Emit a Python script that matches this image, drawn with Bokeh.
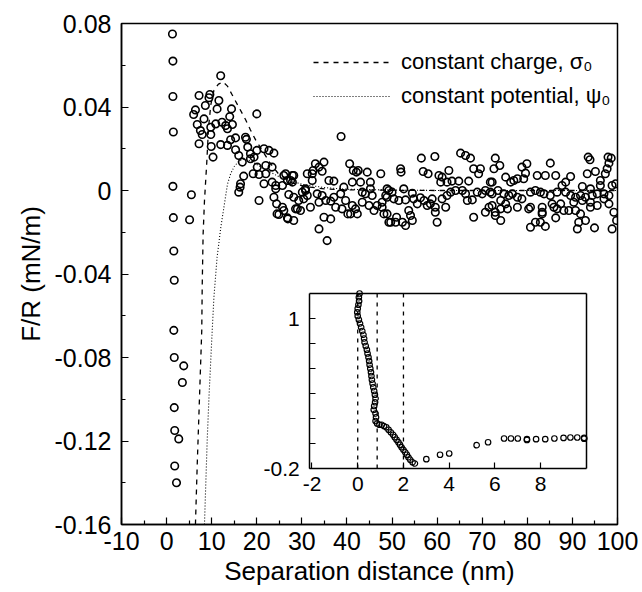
from bokeh.plotting import figure
from bokeh.models import Range1d, LinearAxis, FixedTicker, Legend, LegendItem
from bokeh.embed import file_html
from bokeh.resources import INLINE

FONT = "Liberation Sans"

# ---------------- main panel data (separation nm, F/R mN/m) ----------------
contact_sep = [1.3, 1.4, 1.4, 1.5, 1.4, 1.5, 1.6, 1.7, 1.6, 1.7, 3.8, 3.5, 1.7, 1.8, 2.7, 1.8, 2.2, 5.5, 5.1]
contact_force = [0.075, 0.062, 0.045, 0.028, 0.002, -0.013, -0.029, -0.043, -0.067, -0.080, -0.084, -0.092,
                 -0.104, -0.115, -0.119, -0.132, -0.140, -0.002, -0.014]

near_sep = [12.0, 7.2, 9.4, 9.6, 8.6, 11.6, 11.2, 6.4, 6.0, 14.4, 14.0, 20.0, 8.3, 6.8, 9.8, 10.9, 12.3, 13.1,
            14.6, 13.5, 7.5, 7.9, 9.8, 7.2, 9.9, 12.0, 13.5, 10.3, 14.2, 15.3, 17.5, 17.7, 15.3, 16.0, 16.8,
            18.0, 18.6, 18.6, 20.0, 21.6, 22.7, 23.8, 19.4, 20.1, 22.0, 23.4, 19.2, 20.5, 22.0, 17.1, 16.4,
            16.0, 16.3, 20.5, 21.6, 23.4, 24.2, 24.4, 24.5, 23.8, 26.9, 28.2, 26.4, 27.5, 28.2, 29.0, 29.3,
            30.1, 30.8, 31.2, 32.3, 33.0, 33.8, 32.3, 31.9, 33.8, 33.8]
near_force = [0.055, 0.0455, 0.0444, 0.046, 0.0407, 0.0431, 0.0391, 0.0386, 0.0364, 0.0391, 0.0354, 0.0367,
              0.0343, 0.0316, 0.0303, 0.0319, 0.0327, 0.0311, 0.0316, 0.0296, 0.0287, 0.0268, 0.0268, 0.0224,
              0.0211, 0.0220, 0.0216, 0.0160, 0.0243, 0.0252, 0.0255, 0.0245, 0.0195, 0.0168, 0.0136, 0.0208,
              0.0176, 0.0152, 0.0192, 0.0200, 0.0192, 0.0179, 0.0160, 0.0112, 0.0120, 0.0112, 0.0080, 0.0077,
              0.0080, 0.0069, 0.0032, -0.0008, 0.0016, -0.0048, 0.0032, 0.0040, 0.0024, -0.0064, -0.0112,
              -0.0032, -0.0136, -0.0144, 0.0080, 0.0048, 0.0072, -0.0088, -0.0048, -0.0008, 0.0008, 0.0080,
              0.0080, 0.0128, 0.0112, 0.0048, -0.0080, -0.0056, -0.0184]

mid_sep = [38.7, 26.0, 26.8, 27.9, 27.9, 24.2, 25.7, 25.7, 24.9, 26.8, 26.0, 27.1, 28.2, 28.6, 29.7, 30.4,
           31.2, 30.8, 32.5, 34.5, 34.9, 33.4, 34.5, 34.9, 36.4, 35.6, 36.0, 37.1, 35.3, 36.4, 37.5, 37.1,
           38.6, 39.3, 39.7, 38.9, 40.2, 40.6, 41.2, 42.1, 43.0, 43.4, 44.5, 45.2, 45.2, 41.2, 41.9, 42.3,
           40.8, 44.1, 45.6, 43.4, 44.9, 47.5, 46.0, 46.7, 47.8, 48.9, 48.6, 48.9, 49.3, 41.4, 42.5]
mid_force = [0.0259, 0.0072, 0.0048, 0.0072, 0.0040, 0.0008, 0.0024, -0.0080, -0.0115, -0.0131, -0.0096,
             -0.0019, -0.0032, -0.0088, -0.0096, -0.0040, -0.0024, 0.0000, 0.0096, 0.0092, 0.0136, -0.0016,
             -0.0024, -0.0128, -0.0136, -0.0240, 0.0048, 0.0045, -0.0048, -0.0051, -0.0080, -0.0032, -0.0016,
             0.0016, -0.0048, -0.0088, -0.0112, 0.0128, 0.0040, 0.0088, 0.0040, -0.0008, 0.0088, 0.0040,
             0.0008, -0.0072, -0.0088, -0.0112, -0.0112, -0.0016, -0.0024, -0.0056, -0.0072, 0.0080, -0.0096,
             -0.0072, -0.0080, 0.0008, -0.0024, -0.0112, -0.0152, 0.0096, 0.0096]

far1_sep = [51.9, 52.0, 56.5, 59.5, 56.9, 58.0, 65.2, 66.3, 67.4, 68.1, 69.6, 69.2, 62.6, 60.4, 61.1, 60.8,
            62.2, 63.3, 64.8, 67.0, 71.8, 49.3, 50.0, 48.9, 50.4, 47.8, 52.6, 53.0, 51.5, 54.5, 54.8, 55.6,
            56.3, 57.1, 57.8, 58.9, 58.5, 59.6, 61.1, 62.2, 63.0, 64.1, 65.6, 66.3, 66.7, 67.8, 68.9, 70.0,
            70.7, 71.8, 48.2, 49.7, 50.8, 51.0, 52.3, 53.0, 54.1, 54.5, 53.7, 59.6, 61.9, 60.0, 68.1, 70.7,
            71.5, 72.9]
far1_force = [0.0104, 0.0088, 0.0155, 0.0163, 0.0091, 0.0080, 0.0179, 0.0168, 0.0155, 0.0104, 0.0104, 0.0080,
              0.0096, 0.0072, 0.0064, 0.0040, 0.0040, 0.0045, 0.0045, 0.0045, 0.0040, 0.0000, -0.0008, -0.0032,
              -0.0040, -0.0056, 0.0008, -0.0045, -0.0048, -0.0013, -0.0040, -0.0064, -0.0035, -0.0048, -0.0072,
              -0.0040, -0.0064, -0.0080, -0.0040, -0.0024, -0.0008, 0.0000, 0.0000, -0.0016, -0.0048, -0.0045,
              -0.0008, -0.0016, 0.0000, -0.0008, -0.0112, -0.0152, -0.0152, -0.0128, -0.0152, -0.0168, -0.0120,
              -0.0144, -0.0096, -0.0104, -0.0080, -0.0152, -0.0128, -0.0104, -0.0080, -0.0104]

far2_sep = [72.9, 72.6, 73.9, 72.2, 73.5, 72.2, 75.2, 76.3, 77.0, 77.8, 79.2, 78.8, 79.9, 79.6, 82.2, 84.0,
            85.1, 86.3, 89.6, 87.7, 88.5, 93.9, 93.3, 95.1, 92.2, 94.0, 96.2, 96.2, 97.3, 97.7, 98.1, 98.6,
            98.8, 99.6, 74.8, 75.9, 76.7, 77.8, 78.8, 80.7, 81.8, 82.9, 83.7, 85.1, 86.6, 88.5, 89.6, 90.7,
            91.8, 92.9, 94.4, 95.5, 97.0, 98.1, 72.2, 74.1, 75.2, 74.1, 75.6, 77.8, 80.3, 80.7, 83.3, 83.3,
            85.9, 85.5, 86.6, 87.4, 88.1, 89.2, 90.7, 90.3, 92.2, 94.0, 94.0, 95.5, 97.0, 98.1, 72.9, 74.1,
            83.3, 86.3, 91.8, 99.2, 99.8, 80.7, 81.8, 82.9, 84.0, 91.4, 92.9, 91.1, 94.9, 98.8, 93.5, 97.9]
far2_force = [0.0155, 0.0104, 0.0120, 0.0040, 0.0000, -0.0016, 0.0064, 0.0040, 0.0048, 0.0056, 0.0056, 0.0112,
              0.0128, 0.0083, 0.0072, 0.0072, 0.0131, 0.0072, 0.0067, 0.0024, 0.0040, 0.0147, 0.0080, 0.0091,
              0.0019, 0.0008, 0.0048, 0.0024, 0.0080, 0.0104, 0.0131, 0.0155, 0.0024, 0.0032, -0.0016, -0.0024,
              -0.0016, -0.0032, -0.0040, -0.0008, 0.0000, -0.0008, -0.0016, -0.0024, -0.0008, -0.0008, -0.0024,
              -0.0032, -0.0024, -0.0032, -0.0024, -0.0016, -0.0016, -0.0024, -0.0072, -0.0048, -0.0064, -0.0088,
              -0.0088, -0.0080, -0.0088, -0.0080, -0.0080, -0.0104, -0.0080, -0.0064, -0.0088, -0.0064, -0.0096,
              -0.0096, -0.0096, -0.0056, -0.0048, -0.0056, -0.0080, -0.0072, -0.0040, -0.0064, -0.0120, -0.0144,
              -0.0112, -0.0131, -0.0112, -0.0104, -0.0144, -0.0176, -0.0152, -0.0152, -0.0172, -0.0152, -0.0144,
              -0.0184, -0.0179, -0.0184, 0.0160, 0.0160]

# ---------------- theory curves ----------------
charge_sep = [6.4, 6.8, 7.3, 7.8, 7.9, 8.1, 8.4, 8.9, 9.3, 9.8, 10.5, 11.5, 12.5, 13.5, 14.5, 16.0, 17.5,
              18.6, 19.8, 21.0, 23.0, 25.0, 28.0, 31.0, 35.0, 40.0, 50.0, 60.0, 80.0, 100.0]
charge_force = [-0.160, -0.131, -0.099, -0.067, -0.046, -0.021, -0.005, 0.013, 0.030, 0.041, 0.048, 0.051,
                0.052, 0.050, 0.046, 0.040, 0.034, 0.029, 0.024, 0.020, 0.013, 0.0075, 0.0035, 0.0018,
                0.0008, 0.0003, 0.0001, 0.0, 0.0, 0.0]
potential_sep = [8.4, 9.0, 9.4, 10.0, 10.5, 11.2, 12.0, 13.0, 13.5, 14.2, 15.0, 16.0, 17.0, 18.0, 20.0,
                 22.0, 25.0, 30.0, 35.0, 40.0, 50.0, 60.0, 80.0, 100.0]
potential_force = [-0.160, -0.120, -0.099, -0.072, -0.051, -0.032, -0.018, -0.004, 0.003, 0.008, 0.0115,
                   0.0140, 0.0150, 0.0148, 0.0125, 0.0100, 0.0065, 0.0030, 0.0014, 0.0006, 0.0002, 0.0,
                   0.0, 0.0]

# ---------------- inset data ----------------
inset_sep = [0.08, 0.05, 0.06, 0.03, 0.0, -0.02, 0.0, 0.05, 0.10, 0.15, 0.20, 0.25, 0.28, 0.30, 0.35, 0.40,
             0.43, 0.47, 0.50, 0.52, 0.55, 0.58, 0.60, 0.62, 0.65, 0.68, 0.72, 0.75, 0.78, 0.76, 0.72, 0.70,
             0.78, 0.80, 0.78, 0.85, 0.95, 1.05, 1.15, 1.25, 1.35, 1.45, 1.55, 1.62, 1.70, 1.78, 1.85, 1.92,
             2.00, 2.08, 2.15, 2.22, 2.30, 2.40, 2.50, 3.0, 3.6, 4.0, 5.2, 5.7, 6.4, 6.7, 7.0, 7.4, 7.4, 7.8,
             8.2, 8.6, 9.0, 9.3, 9.6, 9.9, 9.9]
inset_force = [1.20, 1.17, 1.14, 1.11, 1.08, 1.05, 1.02, 0.99, 0.96, 0.93, 0.90, 0.87, 0.84, 0.81, 0.78, 0.75,
               0.72, 0.69, 0.66, 0.63, 0.60, 0.57, 0.54, 0.51, 0.48, 0.45, 0.42, 0.39, 0.36, 0.33, 0.30, 0.27,
               0.24, 0.21, 0.18, 0.16, 0.15, 0.15, 0.14, 0.13, 0.11, 0.09, 0.07, 0.05, 0.03, 0.01, -0.01, -0.03,
               -0.05, -0.07, -0.09, -0.11, -0.13, -0.15, -0.16, -0.125, -0.09, -0.08, -0.013, 0.01, 0.04, 0.04,
               0.04, 0.035, 0.028, 0.035, 0.035, 0.04, 0.045, 0.048, 0.048, 0.045, 0.038]
inset_marks = [0.0, 0.85, 2.0]

x_ticks = [-10, 0, 10, 20, 30, 40, 50, 60, 70, 80, 90, 100]
x_labels = ["-10", "0", "10", "20", "30", "40", "50", "60", "70", "80", "90", "100"]
x_minor = [-5, 5, 15, 25, 35, 45, 55, 65, 75, 85, 95]
y_ticks = [-0.16, -0.12, -0.08, -0.04, 0, 0.04, 0.08]
y_labels = ["-0.16", "-0.12", "-0.08", "-0.04", "0", "0.04", "0.08"]
y_minor = [-0.14, -0.10, -0.06, -0.02, 0.02, 0.06]
inset_x_ticks = [-2, 0, 2, 4, 6, 8]
inset_x_labels = ["-2", "0", "2", "4", "6", "8"]
inset_y_ticks = [-0.2, 1]
inset_y_labels = ["-0.2", "1"]
inset_y_minor = [0, 0.2, 0.4, 0.6, 0.8]

# inset box in its own data units, and the ranges that place it within the frame
IX_LO, IX_HI = -2.1, 10.0
IY_LO, IY_HI = -0.2, 1.2
IX_RANGE = (-10.33, 11.36)
IY_RANGE = (-0.648, 3.36)

p = figure(width=642, height=592, output_backend="svg", toolbar_location=None,
           x_range=Range1d(-10, 100), y_range=Range1d(-0.16, 0.08),
           min_border_left=121, min_border_right=25, min_border_top=23, min_border_bottom=68)
p.background_fill_color = "white"
p.border_fill_color = "white"
p.xgrid.visible = False
p.ygrid.visible = False
p.outline_line_color = "black"
p.outline_line_width = 1.5

p.extra_x_ranges = {"ix": Range1d(*IX_RANGE)}
p.extra_y_ranges = {"iy": Range1d(*IY_RANGE)}


def style_axis(ax, size):
    ax.axis_line_color = "black"
    ax.axis_line_width = 1.5
    ax.major_tick_line_width = 1.2
    ax.minor_tick_line_width = 1.2
    ax.major_tick_in = 7
    ax.major_tick_out = 0
    ax.minor_tick_in = 4
    ax.minor_tick_out = 0
    ax.major_label_text_font = FONT
    ax.major_label_text_font_size = size
    ax.major_label_text_color = "black"
    ax.axis_label_text_font = FONT
    ax.axis_label_text_font_style = "normal"
    ax.axis_label_text_font_size = "26px"
    ax.axis_label_text_color = "black"


xa = p.xaxis[0]
style_axis(xa, "25px")
xa.ticker = FixedTicker(ticks=x_ticks, minor_ticks=x_minor)
xa.major_label_overrides = dict(zip(x_ticks, x_labels))
xa.axis_label = "Separation distance (nm)"
xa.major_label_standoff = 7
xa.axis_label_standoff = 3

ya = p.yaxis[0]
style_axis(ya, "25px")
ya.ticker = FixedTicker(ticks=y_ticks, minor_ticks=y_minor)
ya.major_label_overrides = dict(zip(y_ticks, y_labels))
ya.axis_label = "F/R (mN/m)"
ya.major_label_standoff = 10
ya.axis_label_standoff = 6

# data
for xs, ys in [(contact_sep, contact_force), (near_sep, near_force), (mid_sep, mid_force),
               (far1_sep, far1_force), (far2_sep, far2_force)]:
    p.scatter(xs, ys, marker="circle", size=7.5, fill_color=None, line_color="black", line_width=1.6)

r_charge = p.line(charge_sep, charge_force, line_color="black", line_width=1.3, line_dash="5 5")
r_pot = p.line(potential_sep, potential_force, line_color="black", line_width=1.1, line_dash="1 2")

legend = Legend(items=[LegendItem(label="constant charge, σ₀", renderers=[r_charge]),
                       LegendItem(label="constant potential, ψ₀", renderers=[r_pot])],
                location=(192, 413), glyph_width=77, glyph_height=30, label_height=30, spacing=4,
                padding=0, margin=0, label_standoff=11, border_line_alpha=0, background_fill_alpha=0,
                label_text_font=FONT, label_text_font_size="22px", label_text_color="black")
p.add_layout(legend)

# inset
for m in inset_marks:
    p.segment(x0=m, y0=IY_LO, x1=m, y1=IY_HI, x_range_name="ix", y_range_name="iy",
              line_color="black", line_width=1.3, line_dash="4 5")
p.scatter(inset_sep, inset_force, x_range_name="ix", y_range_name="iy", marker="circle", size=5.5,
          fill_color=None, line_color="black", line_width=1.2)

ixa = LinearAxis(x_range_name="ix", y_range_name="iy", fixed_location=IY_LO, bounds=(IX_LO, IX_HI),
                 ticker=FixedTicker(ticks=inset_x_ticks))
style_axis(ixa, "21px")
ixa.major_label_overrides = dict(zip(inset_x_ticks, inset_x_labels))
ixa.major_tick_in = 6
ixa.major_label_standoff = 8
p.add_layout(ixa, "below")

iya = LinearAxis(x_range_name="ix", y_range_name="iy", fixed_location=IX_LO, bounds=(IY_LO, IY_HI),
                 ticker=FixedTicker(ticks=inset_y_ticks, minor_ticks=inset_y_minor))
style_axis(iya, "21px")
iya.major_tick_in = 6
iya.minor_tick_in = 6
iya.major_label_overrides = dict(zip(inset_y_ticks, inset_y_labels))
iya.major_label_standoff = 10
p.add_layout(iya, "left")

ita = LinearAxis(x_range_name="ix", y_range_name="iy", fixed_location=IY_HI, bounds=(IX_LO, IX_HI),
                 ticker=FixedTicker(ticks=[]))
style_axis(ita, "21px")
p.add_layout(ita, "above")

ira = LinearAxis(x_range_name="ix", y_range_name="iy", fixed_location=IX_HI, bounds=(IY_LO, IY_HI),
                 ticker=FixedTicker(ticks=[]))
style_axis(ira, "21px")
p.add_layout(ira, "right")

open("out.html", "w").write(file_html(p, INLINE))
